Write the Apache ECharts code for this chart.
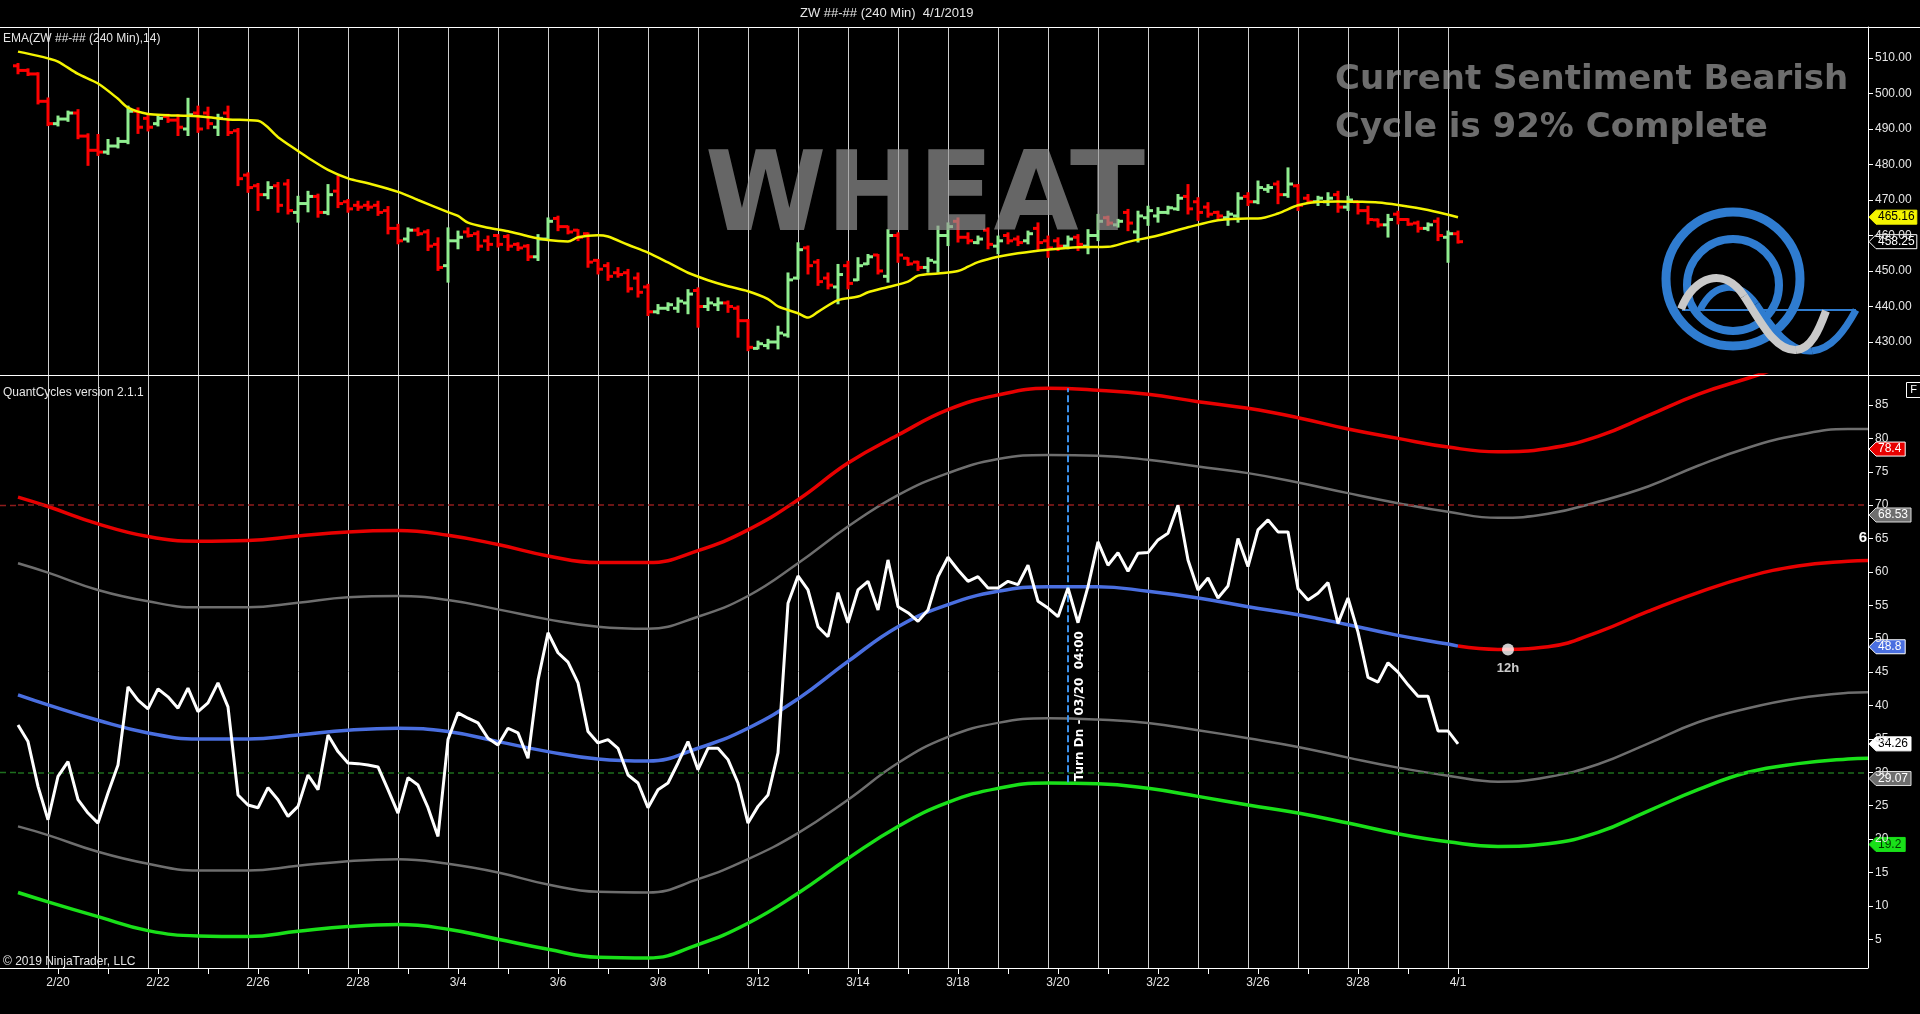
<!DOCTYPE html>
<html>
<head>
<meta charset="utf-8">
<title>ZW 240 Min - Wheat</title>
<script src="https://cdn.jsdelivr.net/npm/echarts/dist/echarts.min.js"></script>
<style>
html,body{margin:0;padding:0;background:#000;overflow:hidden;}
#chart{width:1920px;height:1014px;}
</style>
</head>
<body>
<div id="chart"></div>
<script>
// ------------------------------------------------------------------
// DATA
// ------------------------------------------------------------------
const barSlots = 186;                       // bar slots on the time axis (145 real bars + projection)
const dayLabels = ['2/20','2/22','2/26','2/28','3/4','3/6','3/8','3/12','3/14','3/18','3/20','3/22','3/26','3/28','4/1'];
const dayLabelBars = [4,14,24,34,44,54,64,74,84,94,104,114,124,134,144];
const tickBars = [4,9,14,19,24,29,34,39,44,49,54,59,64,69,74,79,84,89,94,99,104,109,114,119,124,129,134,139,144];
const sessionBars = [3,8,13,18,23,28,33,38,43,48,53,58,63,68,73,78,83,88,93,98,103,108,113,118,123,128,133,138,143];

const barOpen = [
 507.8,506.5,505.5,497.8,491.5,492.8,494.5,488.0,484.0,483.5,
 485.2,486.5,495.0,493.0,491.5,493.5,492.5,490.0,494.5,494.5,
 490.5,494.5,489.5,477.0,474.0,471.5,474.0,474.5,466.5,469.0,
 471.0,466.5,472.5,469.5,468.5,468.5,468.5,467.0,462.0,459.0,
 461.5,461.0,457.5,451.5,458.5,461.0,460.5,458.5,460.0,459.7,
 457.5,457.0,454.0,459.0,464.8,462.5,461.5,460.5,453.0,451.5,
 449.5,449.5,448.0,445.5,438.5,439.5,439.5,441.0,444.5,440.0,
 440.5,441.0,439.5,436.0,428.2,429.0,430.0,432.0,448.0,456.5,
 452.5,448.0,445.5,451.5,447.5,452.0,454.5,448.5,460.0,453.6,
 452.5,451.0,452.5,460.0,464.0,459.5,458.0,461.5,457.0,460.0,
 459.0,458.5,462.0,458.5,458.5,457.0,459.5,457.0,460.0,465.0,
 463.0,466.5,461.0,465.0,465.5,466.5,467.5,471.0,469.5,468.0,
 466.5,465.0,465.5,471.0,469.5,473.0,474.5,471.5,474.0,470.5,
 469.5,469.5,471.5,468.0,469.5,467.0,464.4,463.0,466.0,464.5,
 463.5,462.0,464.0,459.5,460.5];
const barHigh = [
 508.3,506.8,505.7,498.6,493.5,494.9,495.3,488.5,488.3,486.9,
 487.4,496.3,495.8,494.0,493.9,494.0,493.9,498.5,496.3,496.0,
 494.0,496.3,490.0,477.5,474.5,475.0,474.8,475.6,470.9,472.3,
 471.5,474.2,476.6,470.0,469.5,469.5,469.5,468.0,463.0,462.0,
 462.0,461.5,459.2,462.0,461.1,462.0,461.1,459.7,460.1,460.1,
 457.8,457.3,460.1,464.8,465.3,462.5,461.5,460.6,453.1,452.2,
 450.8,450.3,449.3,446.1,440.4,440.9,442.3,444.6,445.1,442.3,
 442.3,441.4,440.0,436.2,430.1,430.6,434.3,449.3,457.8,456.9,
 453.1,449.3,451.7,452.6,453.6,454.5,454.5,461.5,460.6,453.6,
 452.6,453.6,462.5,463.4,464.8,460.6,459.7,462.0,459.7,460.6,
 459.7,461.1,463.4,459.7,459.2,459.7,460.1,461.5,465.8,465.3,
 464.4,467.2,466.7,468.1,467.7,468.1,471.4,474.2,470.5,469.1,
 466.7,466.7,471.9,471.9,475.2,474.2,475.2,478.9,474.2,471.4,
 470.9,471.9,472.3,470.9,469.5,468.1,464.5,465.8,466.7,464.6,
 463.9,463.4,464.8,461.1,461.1];
const barLow = [
 505.7,505.2,497.2,491.1,491.0,492.3,487.4,479.9,482.7,483.0,
 484.8,486.0,488.9,489.6,491.0,492.0,488.3,488.3,489.2,490.2,
 488.3,488.3,474.2,472.3,467.2,470.5,466.7,466.2,463.9,466.8,
 465.3,466.0,468.0,466.7,467.2,467.2,465.8,460.6,457.8,458.3,
 460.1,455.9,450.3,447.0,456.4,459.7,455.9,455.9,456.9,455.9,
 455.9,453.1,453.1,458.7,461.5,460.6,458.7,451.2,449.3,447.5,
 448.4,444.2,442.8,437.6,438.1,439.0,438.5,438.1,434.3,439.0,
 439.0,438.5,431.5,427.7,428.2,428.2,428.2,431.5,447.9,449.3,
 446.1,445.1,440.9,445.1,447.5,452.0,449.3,447.0,452.6,451.7,
 450.3,449.8,449.8,457.3,458.3,457.8,457.8,456.4,455.0,457.8,
 457.3,457.8,455.9,454.0,455.9,456.4,455.9,455.0,458.7,463.0,
 462.5,461.5,458.3,463.0,463.9,466.2,467.2,466.2,464.4,465.3,
 464.8,463.0,463.9,468.6,469.1,472.3,469.1,470.9,467.2,469.1,
 468.6,468.6,466.7,467.2,466.2,463.4,462.5,459.7,463.4,463.0,
 461.1,461.5,458.7,452.6,458.0];
const barClose = [
 506.5,505.5,497.8,491.5,492.8,494.5,488.0,484.0,483.5,485.2,
 486.5,495.0,490.5,490.5,493.0,492.5,490.5,494.0,490.0,491.5,
 493.0,489.0,476.0,473.5,471.5,473.5,468.5,467.0,469.0,471.0,
 466.5,471.5,469.0,467.5,468.0,468.0,466.5,462.0,458.5,461.5,
 460.5,457.0,451.0,458.5,459.5,460.0,457.0,457.5,457.5,457.0,
 456.5,454.0,459.0,464.0,462.5,461.0,459.5,452.5,450.5,448.5,
 449.0,445.0,444.0,438.5,439.5,440.5,441.5,443.5,440.0,441.0,
 441.0,440.0,436.0,428.5,429.5,430.0,432.5,447.5,456.0,451.5,
 447.0,446.0,449.0,446.5,451.5,454.0,450.0,460.0,454.5,452.0,
 451.0,453.0,460.0,462.5,459.5,458.5,459.0,457.5,458.5,458.5,
 458.0,460.5,458.0,456.5,457.0,459.0,457.5,460.0,464.0,463.5,
 464.0,463.5,465.5,467.0,466.5,467.8,470.5,467.5,466.5,466.0,
 465.5,466.0,470.5,469.5,473.5,473.5,471.5,474.5,468.5,469.5,
 470.5,470.5,468.0,470.0,467.0,464.5,463.0,464.5,464.5,463.2,
 462.0,463.0,460.0,460.5,458.25];

// EMA(14) read at sample bars
const emaBars = [0,2,3,4,6,8,10,11,13,15,17,19,21,24,26,28,29,31,33,35,38,40,43,44,45,47,49,51,53,55,56,58,59,61,63,65,67,69,71,73,75,76,78,79,80,82,84,85,87,89,90,92,94,95,96,98,100,103,106,109,111,114,117,120,123,124,126,128,130,132,134,136,138,141,144];
const emaVals = [511.8,510.6,509.9,509.0,505.5,502.8,498.5,496.0,494.2,493.9,493.7,493.3,492.7,492.3,487.7,483.8,481.9,478.5,476.1,474.7,472.3,470.0,466.6,465.5,463.6,462.2,461.2,459.8,458.7,458.3,459.5,460.1,459.7,457.4,455.2,452.4,449.5,447.4,445.7,444.3,442.1,440.0,438.1,436.9,438.5,441.8,442.8,444.0,445.5,447.0,448.7,449.3,450.0,451.2,452.5,454.0,455.0,456.0,456.7,456.8,458.2,460.0,462.3,464.3,464.8,464.8,466.2,468.5,469.5,469.6,469.5,469.3,468.6,467.2,465.16];

// QuantCycles oscillator (one value per bar)
const cycleOsc = [
 37.1,34.6,27.9,22.9,29.4,31.6,25.9,23.9,22.4,26.9,
 31.1,42.8,40.8,39.5,42.5,41.3,39.6,42.6,39.1,40.4,
 43.4,39.8,26.6,25.1,24.7,27.7,25.9,23.4,24.9,29.6,
 27.4,35.6,33.1,31.4,31.3,31.1,30.8,27.4,23.9,29.2,
 28.1,24.7,20.4,34.9,38.9,38.1,37.4,35.1,34.1,36.6,
 35.9,32.1,43.8,50.9,47.9,46.5,43.4,36.1,34.4,34.9,
 33.6,29.6,28.4,24.7,27.4,28.4,31.4,34.6,30.4,33.6,
 33.6,31.9,28.4,22.4,24.9,26.6,32.9,55.3,59.4,57.3,
 51.8,50.3,56.9,52.4,57.3,58.6,54.3,61.8,54.8,53.9,
 52.6,54.3,59.3,62.2,60.3,58.6,59.3,57.6,57.6,58.6,
 58.1,61.0,55.6,54.6,53.3,57.6,52.4,57.8,64.5,61.0,
 62.9,60.1,62.8,62.9,64.8,65.8,70.0,61.8,57.3,59.1,
 56.1,57.9,65.0,60.8,66.3,67.8,66.0,66.0,57.5,55.8,
 56.8,58.4,52.3,56.1,51.0,44.2,43.5,46.4,45.0,43.1,
 41.4,41.4,36.2,36.2,34.26];

// cycle bands read at sample bars
const bandBars = [0,3,8,13,18,23,28,33,38,43,48,53,58,63,68,73,78,83,88,93,98,103,108,113,118,123,128,133,138,143,148,153,158,163,168,173,178,183,185];
const bandUpperRed  = [71.2,69.8,67.2,65.3,64.6,64.7,65.4,66.0,66.2,65.5,64.1,62.4,61.4,61.4,63.2,66.3,70.8,76.3,80.5,84.3,86.5,87.5,87.2,86.6,85.5,84.5,83.1,81.4,80.0,78.7,78.0,78.5,80.3,83.4,86.6,89.0,91.3,92.3,92.5];
const bandUpperGray = [61.3,59.9,57.3,55.6,54.7,54.7,55.4,56.2,56.4,55.8,54.4,52.9,51.8,51.5,53.3,56.4,61.3,66.8,71.5,74.8,76.9,77.5,77.4,76.8,75.8,74.8,73.4,71.8,70.3,69.0,68.1,68.7,70.5,72.8,75.9,78.6,80.5,81.4,81.4];
const bandLowerGray = [21.9,20.6,18.1,16.3,15.3,15.3,16.0,16.7,17.0,16.3,15.0,13.2,12.1,12.0,14.0,17.0,20.9,25.9,31.4,35.3,37.4,38.1,37.9,37.4,36.3,35.1,33.8,32.2,30.7,29.5,28.6,29.3,31.2,34.3,37.5,39.6,41.1,41.9,42.0];
const bandGreen     = [12.0,10.6,8.4,6.3,5.5,5.4,6.2,6.9,7.2,6.5,5.0,3.5,2.3,2.2,4.2,7.4,11.9,17.1,21.9,25.5,27.6,28.4,28.3,27.6,26.4,25.1,23.9,22.4,20.8,19.6,18.9,19.3,21.0,24.2,27.4,30.0,31.3,32.0,32.1];
const midBars = [0,3,8,13,18,23,28,33,38,43,48,53,58,63,68,73,78,83,88,93,98,103,108,113,118,123,128,133,138,143,144];
const midBlue = [41.6,40.1,37.8,35.9,35.0,35.0,35.6,36.3,36.6,36.1,34.6,33.1,32.0,31.7,33.6,36.6,41.0,46.6,51.8,55.1,57.1,57.8,57.8,57.1,56.1,54.8,53.6,52.1,50.5,49.2,48.9];
const projBars = [144,148,153,158,163,168,173,178,183,185];
const projRed  = [48.9,48.4,48.8,51.0,54.1,56.9,59.3,60.9,61.6,61.7];
const projDot  = [149, 48.4];               // "12h" marker
const turnDown = [105, 28.5, 87.5];         // bar, bottom value, top value
const levelLines = [70, 30];
const bandTagVals = [78.4, 68.53, 48.8, 34.26, 29.07, 19.2];

// ------------------------------------------------------------------
const NARROW = "'Liberation Sans Narrow','Liberation Sans',Arial,sans-serif";
const pairs = (xs, ys) => xs.map((x, k) => [x, ys[k]]);
const cats = Array.from({length: barSlots}, (_, i) => String(i));
const labelAt = {};
dayLabelBars.forEach((b, k) => { labelAt[b] = dayLabels[k]; });

const chart = echarts.init(document.getElementById('chart'), null, {renderer: 'canvas'});

function renderOHLC(params, api) {
  const i = api.value(0);
  const o = api.coord([i, api.value(1)]);
  const h = api.coord([i, api.value(2)]);
  const l = api.coord([i, api.value(3)]);
  const c = api.coord([i, api.value(4)]);
  const col = api.value(4) >= api.value(1) ? '#90ee90' : '#ff0000';
  const x = o[0];
  const st = {stroke: col, lineWidth: 3};
  return {type: 'group', children: [
    {type: 'line', shape: {x1: x, y1: h[1] - 1, x2: x, y2: l[1] + 1}, style: st},
    {type: 'line', shape: {x1: x - 5, y1: o[1], x2: x, y2: o[1]}, style: st},
    {type: 'line', shape: {x1: x, y1: c[1], x2: x + 5, y2: c[1]}, style: st}
  ]};
}

const bandLine = (name, xs, ys, color, width, extra) => Object.assign({
  type: 'line', name, xAxisIndex: 1, yAxisIndex: 1, data: pairs(xs, ys),
  symbol: 'none', showSymbol: false, smooth: 0.45, clip: true,
  lineStyle: {color, width}, silent: true, z: 3
}, extra || {});

const option = {
  backgroundColor: '#000',
  animation: false,
  grid: [
    {left: 18, right: 52, top: 27, height: 348},
    {left: 18, right: 52, top: 375, height: 593}
  ],
  xAxis: [
    {gridIndex: 0, type: 'category', data: cats, boundaryGap: false,
     axisLine: {show: false}, axisTick: {show: false}, axisLabel: {show: false},
     splitLine: {show: true, interval: (idx) => sessionBars.indexOf(idx) >= 0,
                 lineStyle: {color: '#cfcfcf', width: 1}}},
    {gridIndex: 1, type: 'category', data: cats, boundaryGap: false,
     axisLine: {show: false},
     axisTick: {show: true, interval: (idx) => tickBars.indexOf(idx) >= 0, length: 6, inside: false,
                lineStyle: {color: '#ffffff', width: 1}},
     axisLabel: {show: true, interval: (idx) => labelAt[idx] !== undefined,
                 formatter: (v) => labelAt[+v] || '', color: '#e6e6e6', fontSize: 12,
                 fontFamily: NARROW, margin: 9},
     splitLine: {show: true, interval: (idx) => sessionBars.indexOf(idx) >= 0,
                 lineStyle: {color: '#cfcfcf', width: 1}}}
  ],
  yAxis: [
    {gridIndex: 0, type: 'value', position: 'right', min: 420.7, max: 518.73,
     splitNumber: 10, minInterval: 10, maxInterval: 10,
     axisLine: {show: true, lineStyle: {color: '#ffffff', width: 1}},
     axisTick: {show: true, length: 5, lineStyle: {color: '#ffffff'}},
     axisLabel: {color: '#e6e6e6', fontSize: 12, fontFamily: NARROW, margin: 7,
                 showMinLabel: false, showMaxLabel: false, formatter: (v) => v.toFixed(2)},
     splitLine: {show: false}},
    {gridIndex: 1, type: 'value', position: 'right', min: 0.70, max: 89.49,
     splitNumber: 18, minInterval: 5, maxInterval: 5,
     axisLine: {show: true, lineStyle: {color: '#ffffff', width: 1}},
     axisTick: {show: true, length: 5, lineStyle: {color: '#ffffff'}},
     axisLabel: {color: '#e6e6e6', fontSize: 12, fontFamily: NARROW, margin: 7,
                 showMinLabel: false, showMaxLabel: false, formatter: (v) => String(Math.round(v))},
     splitLine: {show: false}}
  ],
  series: [
    {type: 'custom', name: 'ZW', xAxisIndex: 0, yAxisIndex: 0, renderItem: renderOHLC,
     data: barOpen.map((o, i) => [i, o, barHigh[i], barLow[i], barClose[i]]),
     encode: {x: 0, y: [1, 2, 3, 4]}, z: 3, silent: true},
    {type: 'line', name: 'EMA', xAxisIndex: 0, yAxisIndex: 0, data: pairs(emaBars, emaVals),
     symbol: 'none', showSymbol: false, smooth: 0.3,
     lineStyle: {color: '#f4f400', width: 2.5}, z: 4, silent: true},
    bandLine('upperRed', bandBars, bandUpperRed, '#e80000', 3.5, {
      markLine: {silent: true, symbol: 'none', label: {show: false},
        lineStyle: {type: [6, 4], width: 1.5},
        data: [{yAxis: levelLines[0], lineStyle: {color: '#8e1c1c', type: [6, 4], width: 1.5}},
               {yAxis: levelLines[1], lineStyle: {color: '#1d6e1d', type: [6, 4], width: 1.5}}]}
    }),
    bandLine('upperGray', bandBars, bandUpperGray, '#6e6e6e', 2.5),
    bandLine('lowerGray', bandBars, bandLowerGray, '#6e6e6e', 2.5),
    bandLine('green', bandBars, bandGreen, '#19e019', 3.5),
    bandLine('mid', midBars, midBlue, '#4a6fe0', 3.5, {
      markLine: {silent: true, symbol: 'none', label: {show: false},
        lineStyle: {color: '#3b90ea', type: [7, 3], width: 2},
        data: [[{coord: [turnDown[0], turnDown[1]]}, {coord: [turnDown[0], turnDown[2]]}]]}
    }),
    bandLine('projection', projBars, projRed, '#e80000', 3.5),
    {type: 'line', name: 'osc', xAxisIndex: 1, yAxisIndex: 1, data: cycleOsc.map((v, i) => [i, v]),
     symbol: 'none', showSymbol: false, smooth: false,
     lineStyle: {color: '#ffffff', width: 3}, z: 5, silent: true},
    {type: 'scatter', name: 'dot', xAxisIndex: 1, yAxisIndex: 1, data: [projDot],
     symbolSize: 12, itemStyle: {color: '#ffffff'}, z: 6, silent: true,
     label: {show: true, position: 'bottom', distance: 6, formatter: '12h', color: '#ffffff',
             fontWeight: 'bold', fontSize: 13, fontFamily: "'Liberation Sans',Arial,sans-serif"}}
  ]
};
chart.setOption(option);

// ------------------------------------------------------------------
// overlays: borders, captions, value tags, logo
// ------------------------------------------------------------------
const axisX = chart.convertToPixel({xAxisIndex: 1}, barSlots - 1);
const gridLeftX = chart.convertToPixel({xAxisIndex: 1}, 0);
const yTop = (v) => chart.convertToPixel({yAxisIndex: 0}, v);
const yBot = (v) => chart.convertToPixel({yAxisIndex: 1}, v);

function tag(y, text, fill, textColor, stroke) {
  const w = 6 + text.length * 5.8;
  const x0 = axisX + 1;
  return {type: 'group', z: 200, children: [
    {type: 'polygon', shape: {points: [[x0, y], [x0 + 7, y - 7], [x0 + 7 + w, y - 7], [x0 + 7 + w, y + 7], [x0 + 7, y + 7]]},
     style: {fill, stroke: stroke || fill, lineWidth: 1}},
    {type: 'text', x: x0 + 9, y: y, style: {text, fill: textColor, font: '12px ' + NARROW, align: 'left', verticalAlign: 'middle'}}
  ]};
}

const txt = (x, y, text, font, fill, align, extra) => Object.assign({
  type: 'text', x, y, z: 150,
  style: {text, font, fill, align: align || 'left', verticalAlign: 'middle'}
}, extra || {});

const bez = (p, color, width) => ({type: 'bezierCurve',
  shape: {x1: p[0], y1: p[1], cpx1: p[2], cpy1: p[3], cpx2: p[4], cpy2: p[5], x2: p[6], y2: p[7]},
  style: {fill: 'none', stroke: color, lineWidth: width}});

const turnX = chart.convertToPixel({xAxisIndex: 1}, turnDown[0]);
const tagColors = [['#e80000', '#ffffff', '#ffffff'], ['#6e6e6e', '#ffffff', '#dddddd'], ['#4a6fe0', '#ffffff', '#ffffff'],
                   ['#ffffff', '#000000', '#ffffff'], ['#6e6e6e', '#ffffff', '#dddddd'], ['#19e019', '#003300', '#19e019']];
const levelColors = ['#8e1c1c', '#1d6e1d'];
const LOGO_BLUE = '#2f7cd0', LOGO_GRAY = '#c9c9c9';

const graphics = [
  // panel borders
  {type: 'line', z: 50, shape: {x1: 0, y1: 27.5, x2: 1920, y2: 27.5}, style: {stroke: '#ffffff', lineWidth: 1}},
  {type: 'line', z: 50, shape: {x1: 0, y1: 375.5, x2: 1920, y2: 375.5}, style: {stroke: '#ffffff', lineWidth: 1}},
  {type: 'line', z: 50, shape: {x1: 0, y1: 968.5, x2: axisX, y2: 968.5}, style: {stroke: '#ffffff', lineWidth: 1}},
  // captions
  txt(800, 13, 'ZW ##-## (240 Min)  4/1/2019', '13px ' + NARROW, '#e6e6e6'),
  txt(3, 39, 'EMA(ZW ##-## (240 Min),14)', '12px ' + NARROW, '#e6e6e6'),
  txt(3, 393, 'QuantCycles version 2.1.1', '12px ' + NARROW, '#e6e6e6'),
  txt(3, 962, '\u00a9 2019 NinjaTrader, LLC', '12px ' + NARROW, '#e6e6e6'),
  // watermark texts
  txt(925, 201, 'WHEAT', "bold 110px 'DejaVu Sans',sans-serif", 'rgba(150,150,150,0.68)', 'center'),
  txt(1335, 80, 'Current Sentiment Bearish', "bold 34px 'DejaVu Sans',sans-serif", 'rgba(160,160,160,0.68)'),
  txt(1335, 128, 'Cycle is 92% Complete', "bold 34px 'DejaVu Sans',sans-serif", 'rgba(160,160,160,0.68)'),
  // turn label
  txt(turnX + 12, yBot(turnDown[1]) - 1, 'Turn Dn - 03/20  04:00', "bold 12px 'DejaVu Sans',sans-serif", '#ffffff', 'left', {rotation: Math.PI / 2}),
  txt(axisX - 1, 538, '6', "bold 15px 'Liberation Sans',Arial,sans-serif", '#ffffff', 'right'),
  // F box
  {type: 'rect', z: 150, shape: {x: 1906.5, y: 382.5, width: 14, height: 15}, style: {fill: '#000', stroke: '#ffffff', lineWidth: 1}},
  txt(1913.5, 390, 'F', '11px ' + NARROW, '#ffffff', 'center'),
  // logo
  {type: 'group', z: 120, children: [
    {type: 'circle', shape: {cx: 1733, cy: 279, r: 67}, style: {fill: 'none', stroke: LOGO_BLUE, lineWidth: 9}},
    {type: 'circle', shape: {cx: 1733, cy: 285, r: 46}, style: {fill: 'none', stroke: LOGO_BLUE, lineWidth: 8}},
    {type: 'line', shape: {x1: 1682, y1: 310, x2: 1856, y2: 310}, style: {stroke: LOGO_BLUE, lineWidth: 2}},
    bez([1700, 310, 1714, 282, 1738, 280, 1756, 304], LOGO_BLUE, 7),
    bez([1756, 304, 1772, 328, 1790, 353, 1812, 351], LOGO_BLUE, 7),
    bez([1812, 351, 1832, 349, 1845, 330, 1856, 310], LOGO_BLUE, 7),
    bez([1681, 309, 1694, 276, 1724, 266, 1744, 296], LOGO_GRAY, 8),
    bez([1744, 296, 1761, 322, 1775, 351, 1796, 350], LOGO_GRAY, 8),
    bez([1796, 350, 1811, 349, 1819, 330, 1826, 311], LOGO_GRAY, 8)
  ]},
  // value tags on the price axis
  tag(yTop(emaVals[emaVals.length - 1]), emaVals[emaVals.length - 1].toFixed(2), '#f4f400', '#000000', '#f4f400'),
  tag(yTop(barClose[barClose.length - 1]), barClose[barClose.length - 1].toFixed(2), '#000000', '#ffffff', '#ffffff')
];
// level lines continue to the left edge of the panel
levelLines.forEach((v, k) => {
  const y = Math.round(yBot(v)) + 0.5;
  graphics.push({type: 'line', z: 2, shape: {x1: 0, y1: y, x2: gridLeftX, y2: y},
                 style: {stroke: levelColors[k], lineWidth: 1.5, lineDash: [6, 4]}});
});
bandTagVals.forEach((v, k) => {
  graphics.push(tag(yBot(v), String(v), tagColors[k][0], tagColors[k][1], tagColors[k][2]));
});
chart.setOption({graphic: graphics});
</script>
</body>
</html>
